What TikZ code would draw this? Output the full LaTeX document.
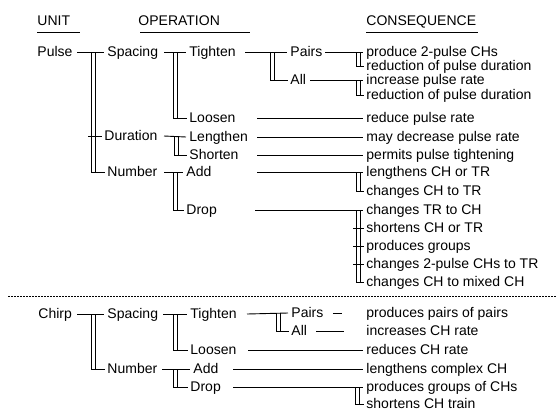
\documentclass[tikz,border=0pt]{standalone}
\usepackage{fontspec}
\setmainfont{Liberation Sans}
\begin{document}
\begin{tikzpicture}[x=1pt,y=-1pt,line width=0.9pt,
  lbl/.style={anchor=west,inner sep=0pt,text height=9pt,text depth=1pt,font=\fontsize{14}{16}\selectfont},
  hdr/.style={anchor=base west,inner sep=0pt,font=\fontsize{14}{16}\selectfont},
  dotline/.style={line width=0.9pt,dash pattern=on 1.6pt off 1.4pt}]
\useasboundingbox (0,0) rectangle (556,410);
% #1 start x of the top line, #2 parent, #3 bar x, #4 first child, #5 last child
\newcommand\brk[5]{%
  \coordinate (bxa) at (#3,0);
  \coordinate (bxb) at (#3+4.5,0);
  \draw (#1,0 |- #2.east) -- ([xshift=-3pt]#4.west);
  \draw (bxa |- #4.west) -- (bxa |- #5.west) -- ([xshift=-2pt]#5.west);
  \draw (bxb |- #4.west) -- (bxb |- #5.west);
}
\newcommand\tck[2]{%
  \coordinate (bxc) at (#1-3,0);
  \draw (bxc |- #2.west) -- ([xshift=-2pt]#2.west);
}
\newcommand\lnk[3]{\draw (#1,0 |- #2.east) -- ([xshift=-3pt]#3.west);}

% headers
\node[hdr] (hUnit) at (37,25) {UNIT};
\node[hdr] (hOp) at (138,25) {OPERATION};
\node[hdr] (hCon) at (366,25) {CONSEQUENCE};
\draw (hUnit.base west) ++(0,7) -- ++(43,0);
\draw (hOp.base west) ++(2,7) -- ++(110,0);
\draw (hCon.base west) ++(0,7) -- ++(112,0);

% ---------- Pulse ----------
\node[lbl] (pulse) at (37,52) {Pulse};
\node[lbl] (pSpacing) at (107,52) {Spacing};
\node[lbl] (pDuration) at (104,136) {Duration};
\node[lbl] (pNumber) at (107,172) {Number};
\node[lbl] (pTighten) at (189,52) {Tighten};
\node[lbl] (pLoosen) at (189,118) {Loosen};
\node[lbl] (pLengthen) at (189,137) {Lengthen};
\node[lbl] (pShorten) at (189,155) {Shorten};
\node[lbl] (pAdd) at (186,172) {Add};
\node[lbl] (pDrop) at (186,210) {Drop};
\node[lbl] (pPairs) at (290,52) {Pairs};
\node[lbl] (pAll) at (290,80) {All};

\node[lbl] (c1) at (366,52) {produce 2-pulse CHs};
\node[lbl] (c2) at (366,66) {reduction of pulse duration};
\node[lbl] (c3) at (366,80) {increase pulse rate};
\node[lbl] (c4) at (366,95) {reduction of pulse duration};
\node[lbl] (c5) at (366,118) {reduce pulse rate};
\node[lbl] (c6) at (366,137) {may decrease pulse rate};
\node[lbl] (c7) at (366,155) {permits pulse tightening};
\node[lbl] (c8) at (366,172) {lengthens CH or TR};
\node[lbl] (c9) at (366,191) {changes CH to TR};
\node[lbl] (c10) at (366,210) {changes TR to CH};
\node[lbl] (c11) at (366,228) {shortens CH or TR};
\node[lbl] (c12) at (366,246) {produces groups};
\node[lbl] (c13) at (366,264) {changes 2-pulse CHs to TR};
\node[lbl] (c14) at (366,282) {changes CH to mixed CH};

\brk{77}{pulse}{91}{pSpacing}{pNumber}
\tck{91}{pDuration}
\brk{164}{pSpacing}{173}{pTighten}{pLoosen}
\brk{164}{pDuration}{174}{pLengthen}{pShorten}
\brk{164}{pNumber}{173}{pAdd}{pDrop}
\brk{245}{pTighten}{270}{pPairs}{pAll}
\brk{325}{pPairs}{356}{c1}{c2}
\brk{310}{pAll}{356}{c3}{c4}
\lnk{257}{pLoosen}{c5}
\lnk{257}{pLengthen}{c6}
\lnk{257}{pShorten}{c7}
\brk{257}{pAdd}{356}{c8}{c9}
\brk{255}{pDrop}{356}{c10}{c14}
\tck{356}{c11}
\tck{356}{c12}
\tck{356}{c13}

% separator
\draw[dotline] (8,296) -- (556,296);

% ---------- Chirp ----------
\node[lbl] (chirp) at (38,314) {Chirp};
\node[lbl] (cSpacing) at (107,314) {Spacing};
\node[lbl] (cNumber) at (107,369) {Number};
\node[lbl] (cTighten) at (190,314) {Tighten};
\node[lbl] (cLoosen) at (190,350) {Loosen};
\node[lbl] (cAdd) at (193,369) {Add};
\node[lbl] (cDrop) at (190,387) {Drop};
\node[lbl] (cPairs) at (291,313) {Pairs};
\node[lbl] (cAll) at (291,331) {All};

\node[lbl] (d1) at (366,313) {produces pairs of pairs};
\node[lbl] (d2) at (366,331) {increases CH rate};
\node[lbl] (d3) at (366,350) {reduces CH rate};
\node[lbl] (d4) at (366,369) {lengthens complex CH};
\node[lbl] (d5) at (366,387) {produces groups of CHs};
\node[lbl] (d6) at (366,404) {shortens CH train};

\brk{77}{chirp}{91}{cSpacing}{cNumber}
\brk{163}{cSpacing}{173}{cTighten}{cLoosen}
\brk{162}{cNumber}{173}{cAdd}{cDrop}
\brk{247}{cTighten}{276}{cPairs}{cAll}
\draw ([xshift=9pt]cPairs.east) -- ([xshift=-24pt]d1.west);
\draw ([xshift=9pt]cAll.east) -- ([xshift=-22pt]d2.west);
\lnk{248}{cLoosen}{d3}
\lnk{233}{cAdd}{d4}
\brk{233}{cDrop}{355}{d5}{d6}
\end{tikzpicture}
\end{document}
